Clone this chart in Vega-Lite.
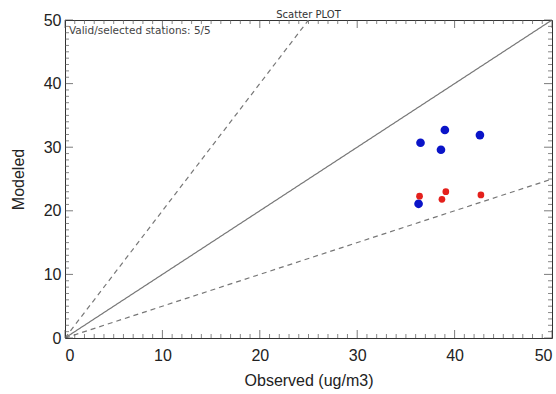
{
  "$schema": "https://vega.github.io/schema/vega-lite/v6.json",
  "width": 487,
  "height": 318,
  "autosize": "none",
  "padding": {"left": 65, "top": 20, "right": 4, "bottom": 56},
  "background": "white",
  "title": {"text": "Scatter PLOT", "fontSize": 10, "font": "DejaVu Sans", "fontWeight": "normal", "color": "#333", "offset": -8, "anchor": "middle"},
  "config": {"view": {"stroke": "#333", "strokeWidth": 1}},
  "datasets": {
    "pts": [
      {"series": "Blue", "obs": 36.5, "mod": 30.7},
      {"series": "Blue", "obs": 39.0, "mod": 32.7},
      {"series": "Blue", "obs": 38.6, "mod": 29.6},
      {"series": "Blue", "obs": 42.6, "mod": 31.9},
      {"series": "Blue", "obs": 36.3, "mod": 21.1},
      {"series": "Red", "obs": 36.4, "mod": 22.3},
      {"series": "Red", "obs": 39.1, "mod": 23.0},
      {"series": "Red", "obs": 38.7, "mod": 21.8},
      {"series": "Red", "obs": 42.7, "mod": 22.5}
    ],
    "lines": [
      {"line": "1:1", "kind": "solid", "obs": 0, "mod": 0},
      {"line": "1:1", "kind": "solid", "obs": 50, "mod": 50},
      {"line": "2:1", "kind": "dash", "obs": 0, "mod": 0},
      {"line": "2:1", "kind": "dash", "obs": 25, "mod": 50},
      {"line": "1:2", "kind": "dash", "obs": 0, "mod": 0},
      {"line": "1:2", "kind": "dash", "obs": 50, "mod": 25}
    ],
    "label": [{"text": "Valid/selected stations: 5/5", "obs": 0.4, "mod": 48.3}],
    "major": [{"v": 0}, {"v": 10}, {"v": 20}, {"v": 30}, {"v": 40}, {"v": 50}],
    "minor": [{"v":1},{"v":2},{"v":3},{"v":4},{"v":5},{"v":6},{"v":7},{"v":8},{"v":9},{"v":11},{"v":12},{"v":13},{"v":14},{"v":15},{"v":16},{"v":17},{"v":18},{"v":19},{"v":21},{"v":22},{"v":23},{"v":24},{"v":25},{"v":26},{"v":27},{"v":28},{"v":29},{"v":31},{"v":32},{"v":33},{"v":34},{"v":35},{"v":36},{"v":37},{"v":38},{"v":39},{"v":41},{"v":42},{"v":43},{"v":44},{"v":45},{"v":46},{"v":47},{"v":48},{"v":49}]
  },
  "resolve": {"axis": {"x": "independent", "y": "independent"}},
  "layer": [
    {
      "data": {"name": "lines"},
      "mark": {"type": "line", "color": "#777", "strokeWidth": 1.2, "clip": true},
      "encoding": {
        "x": {"field": "obs", "type": "quantitative", "scale": {"domain": [0, 50], "nice": false, "zero": false}, "axis": null},
        "y": {"field": "mod", "type": "quantitative", "scale": {"domain": [0, 50], "nice": false, "zero": false}, "axis": null},
        "detail": {"field": "line"},
        "strokeDash": {"field": "kind", "type": "nominal", "scale": {"domain": ["solid", "dash"], "range": [[1, 0], [5, 4]]}, "legend": null}
      }
    },
    {
      "data": {"name": "major"},
      "mark": {"type": "tick", "orient": "vertical", "size": 8, "thickness": 1, "yOffset": -4, "color": "#444"},
      "encoding": {"x": {"field": "v", "type": "quantitative", "axis": null}, "y": {"datum": 0, "type": "quantitative", "axis": null}}
    },
    {
      "data": {"name": "major"},
      "mark": {"type": "tick", "orient": "vertical", "size": 8, "thickness": 1, "yOffset": 4, "color": "#444"},
      "encoding": {"x": {"field": "v", "type": "quantitative", "axis": null}, "y": {"datum": 50, "type": "quantitative", "axis": null}}
    },
    {
      "data": {"name": "major"},
      "mark": {"type": "tick", "orient": "horizontal", "size": 8, "thickness": 1, "xOffset": 4, "color": "#444"},
      "encoding": {"y": {"field": "v", "type": "quantitative", "axis": null}, "x": {"datum": 0, "type": "quantitative", "axis": null}}
    },
    {
      "data": {"name": "major"},
      "mark": {"type": "tick", "orient": "horizontal", "size": 8, "thickness": 1, "xOffset": -4, "color": "#444"},
      "encoding": {"y": {"field": "v", "type": "quantitative", "axis": null}, "x": {"datum": 50, "type": "quantitative", "axis": null}}
    },
    {
      "data": {"name": "minor"},
      "mark": {"type": "tick", "orient": "vertical", "size": 4, "thickness": 1, "yOffset": -2, "color": "#555"},
      "encoding": {"x": {"field": "v", "type": "quantitative", "axis": null}, "y": {"datum": 0, "type": "quantitative", "axis": null}}
    },
    {
      "data": {"name": "minor"},
      "mark": {"type": "tick", "orient": "vertical", "size": 4, "thickness": 1, "yOffset": 2, "color": "#555"},
      "encoding": {"x": {"field": "v", "type": "quantitative", "axis": null}, "y": {"datum": 50, "type": "quantitative", "axis": null}}
    },
    {
      "data": {"name": "minor"},
      "mark": {"type": "tick", "orient": "horizontal", "size": 4, "thickness": 1, "xOffset": 2, "color": "#555"},
      "encoding": {"y": {"field": "v", "type": "quantitative", "axis": null}, "x": {"datum": 0, "type": "quantitative", "axis": null}}
    },
    {
      "data": {"name": "minor"},
      "mark": {"type": "tick", "orient": "horizontal", "size": 4, "thickness": 1, "xOffset": -2, "color": "#555"},
      "encoding": {"y": {"field": "v", "type": "quantitative", "axis": null}, "x": {"datum": 50, "type": "quantitative", "axis": null}}
    },
    {
      "data": {"name": "pts"},
      "mark": {"type": "circle", "opacity": 1},
      "encoding": {
        "x": {"field": "obs", "type": "quantitative",
          "axis": {"orient": "bottom", "title": "Observed (ug/m3)", "titleFont": "Liberation Sans", "titleFontSize": 16, "titleFontWeight": "normal", "titleColor": "#222", "titlePadding": 9,
            "labelFont": "Liberation Sans", "labelFontSize": 16, "labelColor": "#222", "labelPadding": 9,
            "domain": false, "grid": false, "ticks": false, "tickSize": 0, "values": [0,10,20,30,40,50]}},
        "y": {"field": "mod", "type": "quantitative",
          "axis": {"orient": "left", "title": "Modeled", "titleFont": "Liberation Sans", "titleFontSize": 16, "titleFontWeight": "normal", "titleColor": "#222", "titlePadding": 17,
            "labelFont": "Liberation Sans", "labelFontSize": 16, "labelColor": "#222", "labelPadding": 4,
            "domain": false, "grid": false, "ticks": false, "tickSize": 0, "values": [0,10,20,30,40,50]}},
        "color": {"field": "series", "type": "nominal", "scale": {"domain": ["Blue", "Red"], "range": ["#0a14c8", "#e4201c"]}, "legend": null},
        "size": {"field": "series", "type": "nominal", "scale": {"domain": ["Blue", "Red"], "range": [75, 45]}, "legend": null}
      }
    },
    {
      "data": {"name": "label"},
      "mark": {"type": "text", "align": "left", "baseline": "middle", "font": "DejaVu Sans", "fontSize": 10.5, "color": "#444"},
      "encoding": {
        "x": {"field": "obs", "type": "quantitative", "axis": null},
        "y": {"field": "mod", "type": "quantitative", "axis": null},
        "text": {"field": "text"}
      }
    }
  ]
}
